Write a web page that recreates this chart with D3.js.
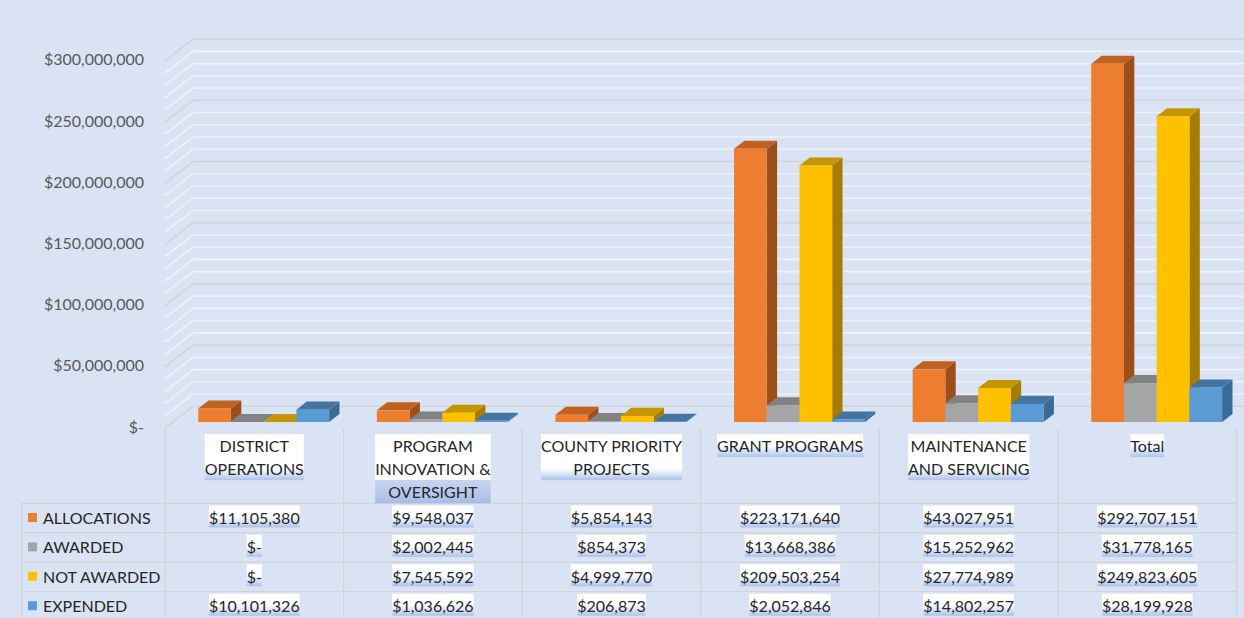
<!DOCTYPE html>
<html><head><meta charset="utf-8">
<script src="https://cdn.jsdelivr.net/npm/d3@7"></script>
<style>
html,body{margin:0;padding:0;background:#dae3f3;}
svg{display:block;font-family:Lato,"Open Sans",sans-serif;}
</style>
</head><body>
<svg id="c" width="1244" height="618"></svg>
<script>
// ---------- data ----------
const categories = ["DISTRICT OPERATIONS","PROGRAM INNOVATION & OVERSIGHT","COUNTY PRIORITY PROJECTS","GRANT PROGRAMS","MAINTENANCE AND SERVICING","Total"];
const categoryLines = [["DISTRICT","OPERATIONS"],["PROGRAM","INNOVATION &","OVERSIGHT"],["COUNTY PRIORITY","PROJECTS"],["GRANT PROGRAMS"],["MAINTENANCE","AND SERVICING"],["Total"]];
const seriesNames = ["ALLOCATIONS","AWARDED","NOT AWARDED","EXPENDED"];
const allocations = [11105380, 9548037, 5854143, 223171640, 43027951, 292707151];
const awarded     = [0, 2002445, 854373, 13668386, 15252962, 31778165];
const notAwarded  = [0, 7545592, 4999770, 209503254, 27774989, 249823605];
const expended    = [10101326, 1036626, 206873, 2052846, 14802257, 28199928];
const yTicks = [0, 50000000, 100000000, 150000000, 200000000, 250000000, 300000000];
const gridStep = 10000000;
const seriesColors = {
  "ALLOCATIONS": {front:"#ed7d31", top:"#c0611f", side:"#9c4e1b"},
  "AWARDED":     {front:"#a5a5a5", top:"#828282", side:"#6e6e6e"},
  "NOT AWARDED": {front:"#ffc000", top:"#c69600", side:"#a67d00"},
  "EXPENDED":    {front:"#5b9bd5", top:"#4474a0", side:"#3a6a96"}
};
const seriesValues = [allocations, awarded, notAwarded, expended];

// ---------- layout ----------
const svg = d3.select("#c");
const frontX = 165, floorY = 428, tableRight = 1236.6, W = 1244;
const wallD = [28, -21.7];
const barF = 0.276, barDepthF = 0.37;
const fmt = v => v === 0 ? "$-" : "$" + d3.format(",")(v);

const hScale = d3.scaleLinear().domain([0, 300000000]).range([0, 367.2]);
const xCat = d3.scaleBand().domain(categories).range([frontX, tableRight]);
const xSer = d3.scaleBand().domain(seriesNames).range([25.5, 156.4]);

// gradients
const defs = svg.append("defs");
const g1 = defs.append("linearGradient").attr("id","fade").attr("x1",0).attr("y1",0).attr("x2",0).attr("y2",1);
g1.append("stop").attr("offset","0%").attr("stop-color","#ffffff");
g1.append("stop").attr("offset","50%").attr("stop-color","#ffffff");
g1.append("stop").attr("offset","100%").attr("stop-color","#adc3ea");
const g2 = defs.append("linearGradient").attr("id","full").attr("x1",0).attr("y1",0).attr("x2",0).attr("y2",1);
g2.append("stop").attr("offset","0%").attr("stop-color","#c8d5ef");
g2.append("stop").attr("offset","100%").attr("stop-color","#a8bde6");

svg.append("rect").attr("width",W).attr("height",618).attr("fill","#dae3f3");

// ---------- gridlines (side wall + back wall) ----------
const gridVals = d3.range(0, 300000000 + 1, gridStep);
svg.append("g").selectAll("polyline").data(gridVals).join("polyline")
  .attr("points", v => {
    const y = floorY - hScale(v);
    return [[frontX, y],[frontX + wallD[0], y + wallD[1]],[W, y + wallD[1]]].map(p=>p.join(",")).join(" ");
  })
  .attr("fill","none")
  .attr("stroke", v => v % 50000000 === 0 ? "#d2d4d8" : "#eef1f8")
  .attr("stroke-width", 1.6);

// ---------- y axis ----------
const yAxisScale = d3.scaleLinear().domain([0, 300000000]).range([floorY - 1, floorY - 1 - 367.2]);
const ax = svg.append("g").attr("transform", `translate(${frontX},0)`)
  .call(d3.axisLeft(yAxisScale).tickValues(yTicks).tickFormat(fmt).tickSize(0).tickPadding(21));
ax.select(".domain").remove();
ax.selectAll("text").attr("font-size", 16).attr("fill", "#595959").attr("font-family","Lato,'Open Sans',sans-serif");

// ---------- bars ----------
const bdx = barDepthF * wallD[0], bdy = barDepthF * wallD[1];
const offX = barF * wallD[0], offY = barF * wallD[1];
const barsG = svg.append("g");
categories.forEach((cat, i) => {
  seriesNames.forEach((s, j) => {
    const v = seriesValues[j][i];
    const x0 = xCat(cat) + xSer(s) + offX;
    const yb = floorY + offY;
    const h = hScale(v), w = xSer.bandwidth();
    const yt = yb - h;
    const c = seriesColors[s];
    const pts = a => a.map(p => p.join(",")).join(" ");
    barsG.append("polygon").attr("fill", c.side)
      .attr("points", pts([[x0+w, yb],[x0+w+bdx, yb+bdy],[x0+w+bdx, yt+bdy],[x0+w, yt]]));
    barsG.append("polygon").attr("fill", c.top)
      .attr("points", pts([[x0, yt],[x0+w, yt],[x0+w+bdx, yt+bdy],[x0+bdx, yt+bdy]]));
    if (h > 0) barsG.append("rect").attr("x", x0).attr("y", yt).attr("width", w).attr("height", h).attr("fill", c.front);
  });
});

// ---------- data table ----------
const rowTop = 503.3, rowH = 29.4;
const tbl = svg.append("g").attr("stroke", "#d0d3d8").attr("stroke-width", 1.2);
// vertical column lines
const colEdges = categories.map(c => xCat(c)).concat([tableRight]);
tbl.selectAll("line.v").data(colEdges).join("line").attr("class","v")
  .attr("x1", d => d).attr("x2", d => d).attr("y1", floorY).attr("y2", 618);
tbl.append("line").attr("x1", 22).attr("x2", 22).attr("y1", rowTop).attr("y2", 618);
const rowEdges = d3.range(0, seriesNames.length + 1).map(k => rowTop + k * rowH);
tbl.selectAll("line.h").data(rowEdges).join("line").attr("class","h")
  .attr("x1", 22).attr("x2", tableRight).attr("y1", d => d).attr("y2", d => d);

// text with highlight box helper
function boxedText(g, x, y, str, fillId, size) {
  const bg = g.append("rect");
  const t = g.append("text").attr("x", x).attr("y", y).attr("text-anchor","middle")
    .attr("dominant-baseline","central").attr("font-size", size).attr("fill","#262626").text(str);
  const w = t.node().getComputedTextLength();
  bg.attr("x", x - w/2).attr("y", y - 12).attr("width", w).attr("height", 22).attr("fill", `url(#${fillId})`);
  return w;
}

// category labels
const labG = svg.append("g");
categories.forEach((cat, i) => {
  const cx = xCat(cat) + xCat.bandwidth()/2;
  const lines = categoryLines[i];
  const grp = labG.append("g");
  const bgs = lines.map(() => grp.append("rect"));
  const texts = lines.map((ln, k) => grp.append("text").attr("x", cx).attr("y", 445.7 + k*23)
    .attr("text-anchor","middle").attr("dominant-baseline","central")
    .attr("font-size", 16).attr("fill","#262626").text(ln));
  const maxW = d3.max(texts, t => t.node().getComputedTextLength());
  bgs.forEach((r, k) => {
    const last = k === lines.length - 1;
    const fill = !last ? "#ffffff" : (lines.length > 2 ? "url(#full)" : "url(#fade)");
    r.attr("x", cx - maxW/2).attr("y", 445.7 + k*23 - 11.7).attr("width", maxW).attr("height", 23.2).attr("fill", fill);
  });
});

// legend + values
const valG = svg.append("g");
seriesNames.forEach((s, j) => {
  const cy = rowTop + j*rowH + 14.2;
  valG.append("rect").attr("x", 28).attr("y", cy - 4.5).attr("width", 9).attr("height", 9).attr("fill", seriesColors[s].front);
  valG.append("text").attr("x", 43).attr("y", cy).attr("dominant-baseline","central")
    .attr("font-size", 16).attr("fill","#262626").text(s);
  categories.forEach((cat, i) => {
    const cx = xCat(cat) + xCat.bandwidth()/2;
    boxedText(valG, cx, cy, fmt(seriesValues[j][i]), "fade", 16);
  });
});
</script>
</body></html>
